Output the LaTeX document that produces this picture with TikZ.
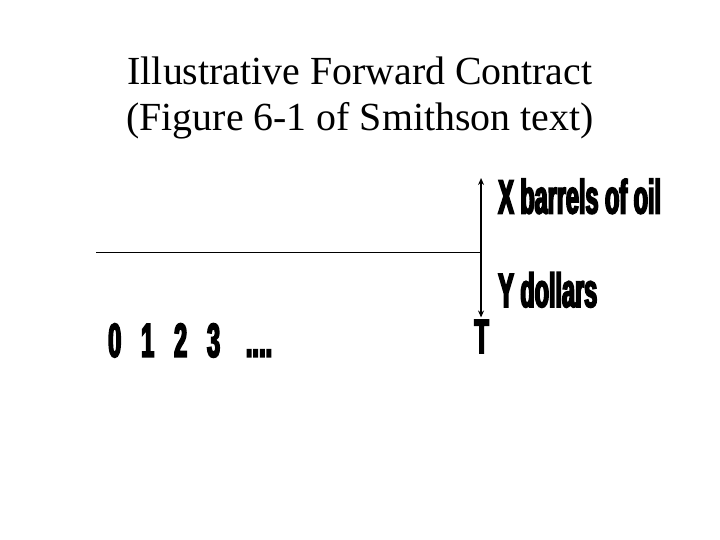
\documentclass[tikz,border=0pt]{standalone}
\usepackage{fontspec}
\setmainfont{Liberation Serif}
\newfontfamily\heavyfont[FakeStretch=0.49,FakeBold=3.5]{Liberation Sans Bold}
\usetikzlibrary{arrows.meta}

\begin{document}
\begin{tikzpicture}
\useasboundingbox[fill=white] (0,0) rectangle (25.4,19.05);
\tikzset{heavy/.style={font=\heavyfont\fontsize{48}{50}\selectfont, inner sep=0pt}}

% title
\node[align=center, inner sep=0pt, anchor=base, font=\fontsize{40}{46}\selectfont] (title) at (12.7,14.46)
  {Illustrative Forward Contract\\(Figure 6-1 of Smithson text)};

% time line and delivery arrow
\coordinate (start) at (3.39,10.16);
\coordinate (top) at (16.97,12.77);
\coordinate (bottom) at (16.97,7.85);
\coordinate (meet) at (16.97,10.16);
\draw[black, thick] (start) -- (meet);
\draw[black, line width=1.5pt, {Stealth[length=7pt,width=6pt]}-{Stealth[length=7pt,width=6pt]}] (top) -- (bottom);

\node[heavy, anchor=base west] (oil) at (17.57,11.52) {X barrels of oil};
\node[heavy, anchor=base west] (dollars) at (17.57,8.22) {Y dollars};
\node[heavy, anchor=base] (tEnd) at (16.99,6.60) {T};
\node[heavy, anchor=base west] (times) at (3.81,6.46)
  {0\hspace{20pt}1\hspace{20pt}2\hspace{20pt}3\hspace{26pt}....};
\end{tikzpicture}
\end{document}
